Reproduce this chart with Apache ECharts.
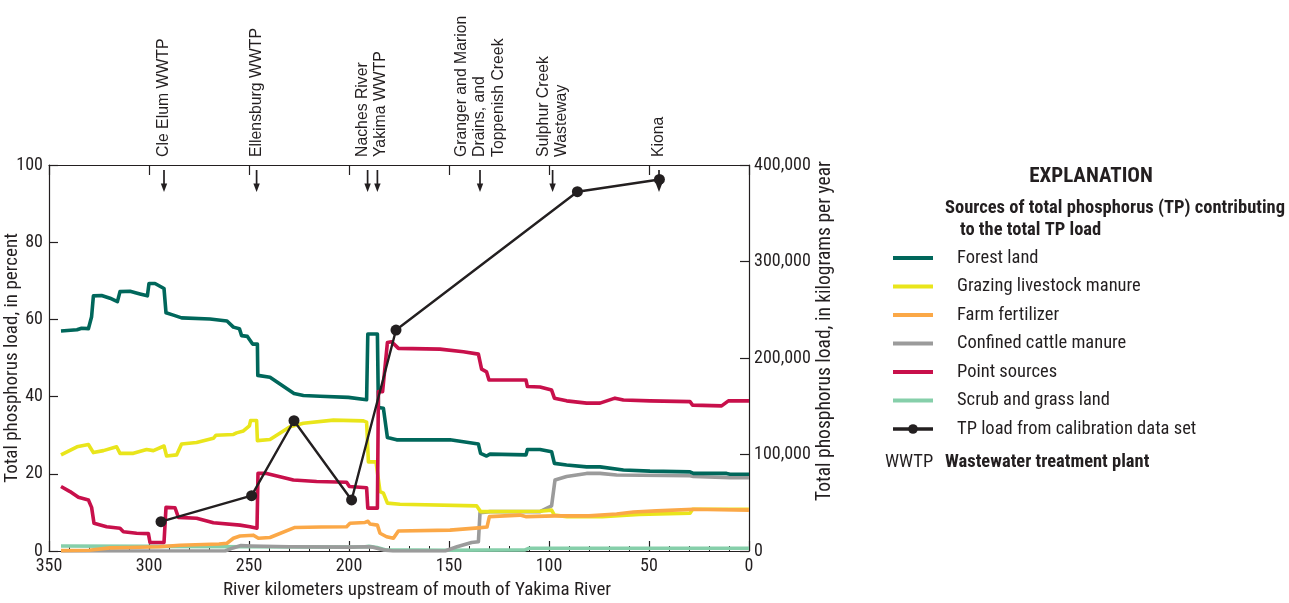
<!DOCTYPE html>
<html>
<head>
<meta charset="utf-8">
<title>Sources of total phosphorus along the Yakima River</title>
<script src="https://cdn.jsdelivr.net/npm/echarts@6/dist/echarts.min.js"></script>
<style>
  html, body { margin: 0; padding: 0; background: #ffffff; }
  #chart { width: 1289px; height: 603px; }
</style>
</head>
<body>
<div id="chart"></div>
<script>
// River kilometers upstream of the mouth of the Yakima River vs. percent of total phosphorus load
const forestLand = [
  [344, 57.0], [336, 57.3], [333.7, 57.7], [330.3, 57.6], [328.7, 60.7], [327.8, 66.1], [323.7, 66.2],
  [319.5, 65.5], [315.8, 64.6], [314.5, 67.2], [309.5, 67.3], [304.5, 66.6], [300.8, 66.1], [300, 69.3],
  [297, 69.3], [292.5, 68.0], [291.5, 61.7], [287.8, 61.1], [283.7, 60.4], [269.5, 60.1], [261, 59.6],
  [257.8, 58.0], [254.8, 57.6], [253.7, 55.8], [250.8, 55.6], [248.2, 53.6], [245.8, 53.6], [245.6, 45.5],
  [239.5, 45.0], [227.5, 40.8], [222.8, 40.3], [214.5, 40.1], [200.3, 39.8], [191.2, 39.2], [190.6, 56.2],
  [185.8, 56.2], [185.3, 37.2], [182.8, 37.0], [180.8, 29.4], [176.2, 28.8], [175.5, 29.1], [149.5, 28.8],
  [135.3, 27.7], [134.2, 25.3], [131.2, 24.6], [129.5, 25.1], [111.5, 24.9], [110.8, 26.3], [104.5, 26.3],
  [98.7, 25.7], [97.3, 22.7], [91.2, 22.3], [81.2, 21.8], [74.5, 21.8], [62.8, 21.0], [49.5, 20.7],
  [29.5, 20.5], [27.8, 20.1], [11.2, 20.1], [9.5, 19.9], [0, 19.9]
];
const grazingManure = [
  [344, 24.9], [336, 27.0], [330.3, 27.6], [327.8, 25.5], [322.8, 26.0], [316.2, 27.0], [314.5, 25.3],
  [307.8, 25.3], [301.2, 26.3], [297.8, 26.0], [292.5, 27.2], [291.2, 24.6], [286.2, 24.9], [283.7, 27.7],
  [276.2, 28.1], [267.8, 29.2], [266.5, 30.0], [257.8, 30.2], [256.2, 30.6], [252.8, 31.1], [249.8, 32.4],
  [249.2, 33.8], [246.2, 33.8], [245.8, 28.6], [239.5, 28.9], [229.5, 32.2], [222.8, 33.1], [207.8, 33.9],
  [192.8, 33.7], [191.2, 33.4], [190.3, 23.1], [186.5, 23.1], [184.5, 15.4], [182.8, 15.0], [180.8, 12.4],
  [174.5, 12.1], [136.2, 11.7], [134.2, 10.2], [104.5, 10.3], [98.7, 10.6], [97.3, 9.3], [91, 8.9],
  [73.3, 8.9], [55, 9.5], [29.5, 9.8], [28.2, 10.8], [0, 10.8]
];
const farmFertilizer = [
  [344, 0.1], [330, 0.2], [319.5, 0.8], [310, 0.9], [295, 1.1], [284.5, 1.5], [265, 1.8], [261, 2.0],
  [257.8, 3.3], [254.5, 3.9], [247.8, 4.1], [245.3, 3.3], [239.5, 3.5], [227, 6.1], [214, 6.2],
  [201.2, 6.3], [199.5, 7.2], [192, 7.4], [190.5, 7.7], [189.5, 7.0], [185.8, 6.7], [184.5, 4.6],
  [181.2, 3.7], [177.8, 3.3], [175.3, 5.2], [149.5, 5.4], [135.3, 6.0], [131, 6.2], [129.8, 8.9],
  [114.5, 9.3], [111.3, 8.9], [97, 9.1], [80, 9.1], [66.2, 9.6], [57.8, 10.1], [46.2, 10.4],
  [27.8, 10.8], [0, 10.6]
];
const cattleManure = [
  [344, 0], [262, 0], [258, 0.8], [254, 1.4], [249, 1.3], [230, 1.1], [200, 1.0], [191, 1.1], [190, 1.5],
  [188, 1.0], [183, 0.3], [178, 0], [152, 0], [146, 1.1], [138.7, 2.2], [135.3, 2.4], [134.5, 9.9],
  [129.5, 10.2], [104.5, 10.2], [98.7, 11.7], [97, 18.4], [91.2, 19.3], [81.2, 20.1], [74.5, 20.1],
  [66.2, 19.7], [29.5, 19.5], [27.8, 19.3], [9.5, 19.0], [0, 19.0]
];
const pointSources = [
  [344, 16.7], [339.5, 15.4], [335.3, 13.9], [330.3, 13.2], [328.7, 11.3], [327.5, 7.2], [321.2, 6.3],
  [314.5, 5.9], [312.8, 5.0], [306.2, 4.6], [300.3, 4.5], [299.5, 2.2], [292.5, 2.2], [291.5, 11.3],
  [287, 11.2], [285.3, 8.7], [276.2, 8.5], [267.8, 7.3], [254.5, 6.7], [249.5, 6.3], [246, 5.9],
  [245.5, 20.1], [241.2, 20.1], [227.8, 18.4], [216.2, 18.0], [201.2, 17.8], [199.8, 16.7], [191.2, 16.4],
  [190.6, 11.1], [185.8, 11.1], [185.3, 41.3], [183.2, 41.3], [180.8, 54.0], [178.7, 54.2], [175.3, 52.5],
  [154.5, 52.3], [142.8, 51.6], [135.3, 51.0], [133.7, 47.1], [131.2, 46.4], [130, 44.3], [111.5, 44.3],
  [110.8, 42.6], [104.5, 42.5], [98.7, 41.7], [97.3, 39.6], [91.2, 38.9], [81.2, 38.3], [74.5, 38.3],
  [67, 39.6], [62.8, 39.1], [49.5, 38.9], [29.5, 38.7], [28.2, 37.8], [13.7, 37.6], [10.3, 38.9], [0, 38.9]
];
const scrubGrassLand = [
  [344, 1.3], [300, 1.2], [250, 1.1], [200, 1.0], [192, 1.1], [190, 1.2], [186, 0.9], [182, 0.3],
  [150, 0.2], [112, 0.3], [110, 0.7], [0, 0.7]
];

// Calibration data set: total phosphorus load, kilograms per year
const tpKm = [294, 248.7, 227.5, 198.7, 176.5, 85.8, 44.8];
const tpLoad = [30400, 57300, 135000, 52900, 229000, 372300, 385000];

// Sites marked along the top of the plot
const siteArrowKm = [292.5, 246.2, 190.7, 185.8, 134.5, 98.2, 45];
const siteLabelKm = [292.5, 246.2, 188.7, 134.5, 98.2, 45];
const siteLabels = [
  'Cle Elum WWTP',
  'Ellensburg WWTP',
  'Naches River\nYakima WWTP',
  'Granger and Marion\nDrains, and\nToppenish Creek',
  'Sulphur Creek\nWasteway',
  'Kiona'
];

const seriesNames = [
  'Forest land', 'Grazing livestock manure', 'Farm fertilizer', 'Confined cattle manure',
  'Point sources', 'Scrub and grass land', 'TP load from calibration data set'
];
const seriesColors = ['#00675B', '#E9E51B', '#FBA847', '#9B9B9B', '#C8104B', '#86CFAA', '#231F20'];

const INK = '#231F20';
const COND = '"Roboto Condensed", "Archivo Narrow", "Liberation Sans", Arial, sans-serif';
const SANS = '"Liberation Sans", Arial, sans-serif';

const chart = echarts.init(document.getElementById('chart'), null, { renderer: 'canvas' });

function sourceSeries(idx, data, z) {
  return {
    name: seriesNames[idx],
    type: 'line',
    data: data,
    xAxisIndex: 0,
    yAxisIndex: 0,
    symbol: 'none',
    z: z,
    lineStyle: { color: seriesColors[idx], width: 3.6, join: 'round' },
    itemStyle: { color: seriesColors[idx] },
    silent: true
  };
}

// Legend entries: plain line swatches for the sources, line with dot for the TP load
const legendData = seriesNames.map((name, i) =>
  i < 6
    ? { name: name, itemStyle: { opacity: 0 }, lineStyle: { width: 4, color: seriesColors[i] } }
    : { name: name, lineStyle: { width: 3.5, color: seriesColors[i] } }
);

const option = {
  animation: false,
  backgroundColor: '#ffffff',
  grid: { left: 49, right: 540, top: 165, bottom: 52, containLabel: false },
  xAxis: [
    {
      type: 'value', position: 'bottom', min: 0, max: 350, interval: 50, inverse: true,
      axisLine: { show: true, onZero: false, lineStyle: { color: INK, width: 1.2 } },
      axisTick: { show: true, inside: true, length: 10, lineStyle: { color: INK, width: 1.2 } },
      minorTick: { show: true, splitNumber: 5, length: 5, lineStyle: { color: INK, width: 1 } },
      axisLabel: { color: INK, fontFamily: COND, fontSize: 18, margin: 6 },
      splitLine: { show: false }
    },
    {
      type: 'value', position: 'top', min: 0, max: 350, interval: 50, inverse: true,
      axisLine: { show: true, onZero: false, lineStyle: { color: INK, width: 1.2 } },
      axisTick: { show: true, inside: true, length: 10, lineStyle: { color: INK, width: 1.2 } },
      axisLabel: { show: false },
      splitLine: { show: false }
    }
  ],
  yAxis: [
    {
      type: 'value', position: 'left', min: 0, max: 100, interval: 20,
      axisLine: { show: true, onZero: false, lineStyle: { color: INK, width: 1.2 } },
      axisTick: { show: true, inside: true, length: 9, lineStyle: { color: INK, width: 1.2 } },
      axisLabel: { color: INK, fontFamily: COND, fontSize: 18, margin: 6 },
      splitLine: { show: false }
    },
    {
      type: 'value', position: 'right', min: 0, max: 400000, interval: 100000,
      axisLine: { show: true, onZero: false, lineStyle: { color: INK, width: 1.2 } },
      axisTick: { show: true, inside: true, length: 9, lineStyle: { color: INK, width: 1.2 } },
      axisLabel: {
        color: INK, fontFamily: COND, fontSize: 18, margin: 5,
        formatter: v => v.toLocaleString('en-US')
      },
      splitLine: { show: false }
    }
  ],
  legend: {
    data: legendData,
    orient: 'vertical',
    left: 891,
    top: 248,
    itemWidth: 40,
    itemHeight: 12,
    itemGap: 8.5,
    selectedMode: false,
    padding: 0,
    textStyle: {
      color: INK, fontFamily: COND, fontSize: 18.5, lineHeight: 20,
      padding: [0, 0, 0, 19]
    }
  },
  graphic: [
    {
      type: 'text', x: 12, y: 358, rotation: Math.PI / 2, silent: true,
      style: { text: 'Total phosphorus load, in percent', fill: INK, font: '19px ' + COND, align: 'center', verticalAlign: 'middle' }
    },
    {
      type: 'text', x: 825, y: 331, rotation: Math.PI / 2, silent: true,
      style: { text: 'Total phosphorus load, in kilograms per year', fill: INK, font: '19.5px ' + COND, align: 'center', verticalAlign: 'middle' }
    },
    {
      type: 'text', x: 417, y: 590, silent: true,
      style: { text: 'River kilometers upstream of mouth of Yakima River', fill: INK, font: '19px ' + COND, align: 'center', verticalAlign: 'middle' }
    },
    {
      type: 'text', x: 1091, y: 177, silent: true,
      style: { text: 'EXPLANATION', fill: INK, font: 'bold 21px ' + COND, align: 'center', verticalAlign: 'middle' }
    },
    {
      type: 'text', x: 945, y: 208, silent: true,
      style: { text: 'Sources of total phosphorus (TP) contributing', fill: INK, font: 'bold 18.5px ' + COND, align: 'left', verticalAlign: 'middle' }
    },
    {
      type: 'text', x: 960, y: 230, silent: true,
      style: { text: 'to the total TP load', fill: INK, font: 'bold 18.5px ' + COND, align: 'left', verticalAlign: 'middle' }
    },
    {
      type: 'text', x: 885, y: 462, silent: true,
      style: { text: 'WWTP', fill: INK, font: '18.5px ' + COND, align: 'left', verticalAlign: 'middle' }
    },
    {
      type: 'text', x: 945, y: 462, silent: true,
      style: { text: 'Wastewater treatment plant', fill: INK, font: 'bold 18.5px ' + COND, align: 'left', verticalAlign: 'middle' }
    }
  ],
  series: [
    sourceSeries(5, scrubGrassLand, 2),
    sourceSeries(3, cattleManure, 3),
    sourceSeries(1, grazingManure, 4),
    sourceSeries(2, farmFertilizer, 5),
    sourceSeries(0, forestLand, 6),
    sourceSeries(4, pointSources, 7),
    {
      name: seriesNames[6],
      type: 'line',
      xAxisIndex: 0,
      yAxisIndex: 1,
      data: tpKm.map((k, i) => [k, tpLoad[i]]),
      symbol: 'circle',
      symbolSize: 11,
      showSymbol: true,
      z: 10,
      lineStyle: { color: INK, width: 2.4 },
      itemStyle: { color: INK },
      silent: true
    },
    {
      // downward arrows at each site
      type: 'custom',
      xAxisIndex: 0,
      yAxisIndex: 0,
      z: 11,
      silent: true,
      data: siteArrowKm.map(k => [k, 100]),
      renderItem: function (params, api) {
        const p = api.coord([api.value(0), api.value(1)]);
        const x = p[0], top = p[1];
        return {
          type: 'group',
          children: [
            { type: 'line', shape: { x1: x, y1: top + 5, x2: x, y2: top + 20 }, style: { stroke: INK, lineWidth: 1.7 } },
            { type: 'polygon', shape: { points: [[x - 3.2, top + 18.5], [x + 3.2, top + 18.5], [x, top + 27]] }, style: { fill: INK } }
          ]
        };
      }
    },
    {
      // site names, written upward above the frame
      type: 'custom',
      xAxisIndex: 0,
      yAxisIndex: 0,
      z: 11,
      silent: true,
      data: siteLabelKm.map((k, i) => [k, 100, i]),
      renderItem: function (params, api) {
        const p = api.coord([api.value(0), api.value(1)]);
        return {
          type: 'text',
          x: p[0],
          y: p[1] - 8,
          rotation: Math.PI / 2,
          style: {
            text: siteLabels[api.value(2)],
            fill: INK,
            font: '15.8px ' + SANS,
            lineHeight: 18.5,
            align: 'left',
            verticalAlign: 'middle'
          }
        };
      }
    }
  ]
};

chart.setOption(option);
</script>
</body>
</html>
